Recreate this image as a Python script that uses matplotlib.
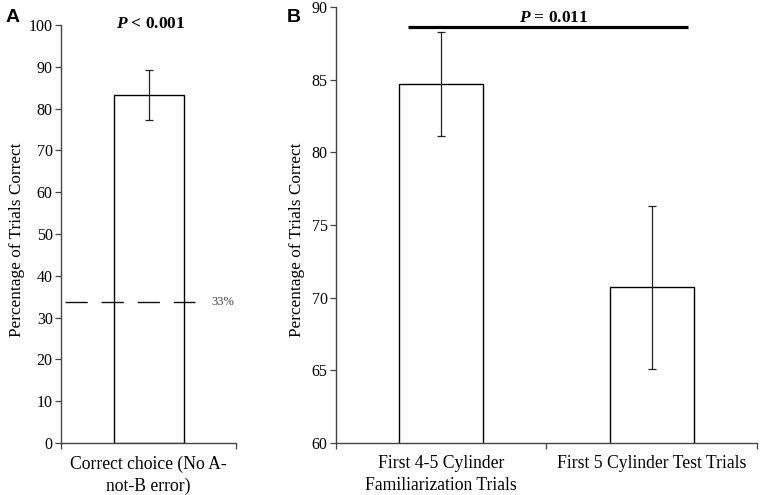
import matplotlib.pyplot as plt

# Panel A data
a_labels = ['Correct choice (No A-\nnot-B error)']
a_values = [83.3]
a_err = [6.0]
a_chance = 33.7

# Panel B data
b_labels = ['First 4-5 Cylinder\nFamiliarization Trials', 'First 5 Cylinder Test Trials']
b_values = [84.7, 70.7]
b_err = [3.55, 5.6]
b_sig_y = 88.65

plt.rcParams['font.family'] = ['Liberation Serif', 'DejaVu Serif']
plt.rcParams['mathtext.fontset'] = 'custom'
plt.rcParams['mathtext.rm'] = 'Liberation Serif'
plt.rcParams['mathtext.bfit'] = 'Liberation Serif:italic:bold'

fig = plt.figure(figsize=(7.61, 4.95), dpi=100)
axA = fig.add_axes([0.0802, 0.1051, 0.2300, 0.8444])
axB = fig.add_axes([0.4415, 0.1051, 0.5532, 0.8808])

for ax in (axA, axB):
    ax.spines['top'].set_visible(False)
    ax.spines['right'].set_visible(False)
    for s in ('left', 'bottom'):
        ax.spines[s].set_color('#444444')
        ax.spines[s].set_linewidth(1.0)
    ax.tick_params(axis='y', direction='out', length=4, width=0.9, color='#444444',
                   labelsize=11.5, pad=2)
    ax.tick_params(axis='x', which='both', length=0, labelsize=12.7, pad=9)
    ax.tick_params(axis='x', which='minor', direction='out', length=4, width=0.9, color='#444444')
    ax.set_ylabel('Percentage of Trials Correct', fontsize=12.4)

# Panel A
xa = range(len(a_labels))
axA.bar(xa, a_values, width=0.4, color='white', edgecolor='black', linewidth=1.0,
        yerr=a_err, error_kw=dict(ecolor='#222222', elinewidth=0.9, capsize=3, capthick=0.9))
axA.set_xlim(-0.5, 0.5)
axA.set_ylim(0, 100)
axA.set_yticks(range(0, 101, 10))
axA.set_xticks(list(xa))
axA.set_xticklabels(a_labels, linespacing=1.35)
axA.set_xticks([-0.5, 0.5], minor=True)
axA.plot([-0.477, 0.266], [a_chance, a_chance], color='#111111', lw=1.0,
         dashes=(16, 10), clip_on=False)
axA.text(0.36, a_chance, '33%', fontsize=9, color='#444444', va='center', ha='left')
axA.text(0.015, 99.3, r'$\mathbfit{P}$ < 0.001', fontsize=12.5, fontweight='bold',
         ha='center', va='baseline')
axA.yaxis.set_label_coords(-0.206, 0.486)
fig.text(0.007, 0.982, 'A', fontsize=14, fontweight='bold', family='Liberation Sans',
         va='top')

# Panel B
xb = range(len(b_labels))
axB.bar(xb, b_values, width=0.4, color='white', edgecolor='black', linewidth=1.0,
        yerr=b_err, error_kw=dict(ecolor='#222222', elinewidth=0.9, capsize=3, capthick=0.9))
axB.set_xlim(-0.5, 1.5)
axB.set_ylim(60, 90)
axB.set_yticks(range(60, 91, 5))
axB.set_xticks(list(xb))
axB.set_xticklabels(b_labels, linespacing=1.35)
axB.set_xticks([-0.5, 0.5, 1.5], minor=True)
axB.plot([-0.16, 1.17], [b_sig_y, b_sig_y], color='black', lw=2.3, solid_capstyle='butt')
axB.text(0.536, 89.0, r'$\mathbfit{P}$ = 0.011', fontsize=12.5, fontweight='bold',
         ha='center', va='baseline')
axB.yaxis.set_label_coords(-0.074, 0.466)
fig.text(0.377, 0.982, 'B', fontsize=14, fontweight='bold', family='Liberation Sans',
         va='top')

fig.savefig('out.png', dpi=100)
